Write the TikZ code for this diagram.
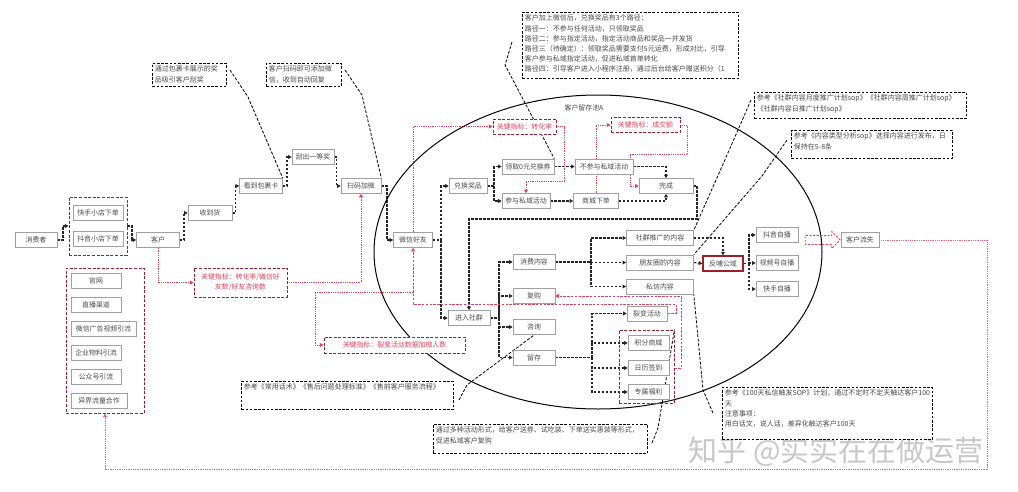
\documentclass[tikz,border=0pt]{standalone}
\usepackage{fontspec}
\newfontfamily\cjk{Noto Sans CJK SC}
\usetikzlibrary{arrows.meta,shapes.geometric,shapes.arrows}
\definecolor{boxgray}{HTML}{A0A0A0}
\definecolor{txtgray}{HTML}{4A4A4A}
\definecolor{redc}{HTML}{E0405A}
\definecolor{dred}{HTML}{A01E2C}
\definecolor{wmgray}{HTML}{C8C8C8}
\pgfdeclarelayer{paper}
\pgfdeclarelayer{bg}
\pgfsetlayers{paper,bg,main}
\tikzset{
  bx/.style={draw=boxgray, line width=0.6pt, fill=white, text=txtgray, font=\cjk\fontsize{6.9}{8}\selectfont, inner sep=0pt, minimum height=15pt},
  grp/.style={draw=dred, line width=0.9pt, dash pattern=on 3pt off 1.6pt, inner sep=0pt},
  rlab/.style={draw=dred, line width=0.9pt, dash pattern=on 3pt off 1.6pt, fill=white, text=redc, font=\cjk\fontsize{6.9}{10}\selectfont, inner sep=0pt, align=center},
  note/.style={draw=black, line width=0.9pt, dash pattern=on 2.6pt off 1.6pt, fill=white, text=txtgray, font=\cjk\fontsize{7}{10.2}\selectfont, inner sep=2.5pt, anchor=north west},
  lbl/.style={text=txtgray, font=\cjk\fontsize{6.9}{8}\selectfont, inner sep=0pt},
  dar/.style={draw=black!85, line width=1.1pt, dash pattern=on 2.6pt off 1.4pt, -{Triangle[length=3.6pt,width=3.8pt]}},
  rdot/.style={draw=redc, line width=0.8pt, dash pattern=on 0.9pt off 0.9pt, -{Triangle[length=3.6pt,width=3.8pt]}},
  rdash/.style={draw=redc, line width=0.9pt, dash pattern=on 2.4pt off 1.4pt, -{Triangle[length=3.6pt,width=3.8pt]}},
  nline/.style={draw=black, line width=0.8pt, dash pattern=on 3pt off 1.6pt},
}
\begin{document}
\begin{tikzpicture}[x=1pt,y=-1pt]
\begin{pgfonlayer}{paper}
\fill[white] (0,0) rectangle (1018,491);
\end{pgfonlayer}
\useasboundingbox (0,0) rectangle (1018,491);

% watermark
\node[text=wmgray, font=\cjk\fontsize{29}{30}\selectfont, inner sep=0pt] (wm) at (836,452) {知乎 @实实在在做运营};

% pool
\node[draw=black, line width=1pt, ellipse, minimum width=448pt, minimum height=314pt, inner sep=0pt] (pool) at (598,252) {};
\node[lbl] (pooltitle) at (584,108) {客户留存池A};

% groups
\node[grp, minimum width=58pt, minimum height=58pt] (g1) at (98,226) {};
\node[grp, minimum width=78pt, minimum height=145pt] (g3) at (105,340.5) {};
\node[grp, minimum width=55pt, minimum height=73pt] (g2) at (646.5,366.5) {};

% left chain
\node[bx, minimum width=42pt] (xfz) at (36,240) {消费者};
\node[bx, minimum width=50pt] (ks) at (98,212.5) {快手小店下单};
\node[bx, minimum width=50pt] (dy) at (98,239) {抖音小店下单};
\node[bx, minimum width=43pt] (kh) at (158,240) {客户};
\node[bx, minimum width=44pt] (sdh) at (210,213) {收到货};
\node[bx, minimum width=43pt] (kbgk) at (261,186) {看到包裹卡};
\node[bx, minimum width=42pt] (gcyd) at (313,157) {刮出一等奖};
\node[bx, minimum width=40pt] (smjw) at (361,186) {扫码加微};

% channels
\node[bx, minimum width=50pt] (gw) at (96,281) {官网};
\node[bx, minimum width=50pt] (zbqd) at (96,305) {直播渠道};
\node[bx, minimum width=65pt] (wxgg) at (103.5,329) {微信广告视频引流};
\node[bx, minimum width=50pt] (qywl) at (96,353) {企业物料引流};
\node[bx, minimum width=50pt] (gzh) at (96,376.5) {公众号引流};
\node[bx, minimum width=56pt] (yjll) at (99,400.5) {异界流量合作};

% inside pool
\node[bx, minimum width=39pt] (wxhy) at (413,240) {微信好友};
\node[bx, minimum width=38pt] (dhjp) at (468,186) {兑换奖品};
\node[bx, minimum width=52pt] (lq0) at (528,166.5) {领取0元兑换券};
\node[bx, minimum width=48pt] (cysy) at (526,201) {参与私域活动};
\node[bx, minimum width=58pt] (bcy) at (604,166.5) {不参与私域活动};
\node[bx, minimum width=45pt] (scxd) at (596,201) {商城下单};
\node[bx, minimum width=54pt] (wc) at (666,186) {完成};
\node[bx, minimum width=42pt] (jrsq) at (469,318) {进入社群};
\node[bx, minimum width=42pt] (xfnr) at (534,262) {消费内容};
\node[bx, minimum width=42pt] (fg) at (534,296) {复购};
\node[bx, minimum width=42pt] (zx) at (534,327) {咨询};
\node[bx, minimum width=42pt] (lc) at (534,357.5) {留存};
\node[bx, minimum width=67pt] (sqtg) at (660,238) {社群推广的内容};
\node[bx, minimum width=67pt] (pyq) at (660,262.5) {朋友圈的内容};
\node[bx, minimum width=67pt] (sxnr) at (660,286.5) {私信内容};
\node[bx, minimum width=40pt] (lbhd) at (647,313.5) {裂变活动};
\node[bx, minimum width=41pt] (jfsc) at (648.5,343) {积分商城};
\node[bx, minimum width=41pt] (rlqd) at (648.5,368) {日历签到};
\node[bx, minimum width=41pt] (zsfl) at (648.5,392) {专属福利};
\node[bx, draw=dred, line width=1.2pt, minimum width=40pt] (fbgy) at (723,263.5) {反哺公域};
\node[bx, minimum width=42pt] (dyzb) at (777,235) {抖音自播};
\node[bx, minimum width=42pt] (sphzb) at (777,263) {视频号自播};
\node[bx, minimum width=42pt] (kszb) at (777,289) {快手自播};
\node[bx, minimum width=38pt] (khls) at (860,240) {客户流失};
\node[single arrow, draw=redc, line width=0.9pt, dash pattern=on 2.2pt off 1.4pt, minimum height=35pt, inner sep=4pt, single arrow head extend=4pt, single arrow head indent=0pt] (loss) at (820.5,240) {};

% red labels
\node[rlab, minimum width=93pt, minimum height=29pt] (rl1) at (240.5,282.5) {关键指标：转化率/微信好\\友数/好友咨询数};
\node[rlab, minimum width=63pt, minimum height=15pt] (rl2) at (524.5,126.5) {关键指标：转化率};
\node[rlab, minimum width=69pt, minimum height=15pt] (rl3) at (645.5,125) {关键指标：成交额};
\node[rlab, minimum width=141pt, minimum height=16pt] (rl4) at (394.5,345) {关键指标：裂变活动数据加微人数};

% notes
\node[note] (n1) at (152,63) {\parbox[t][18pt][t]{69pt}{通过包裹卡展示的奖\\品吸引客户刮奖}};
\node[note] (n2) at (266,63) {\parbox[t][18pt][t]{70pt}{客户扫码即可添加微\\信，收到自动回复}};
\node[note] (n3) at (522,12) {\parbox[t][61pt][t]{211pt}{客户加上微信后，兑换奖品有3个路径：\\路径一：不参与任何活动，只领取奖品\\路径二：参与指定活动，指定活动商品和奖品一并发货\\路径三（待确定）：领取奖品需要支付5元运费，形成对比，引导\\客户参与私域指定活动，促进私域首单转化\\路径四：引导客户进入小程序注册，通过后台给客户赠送积分（1}};
\node[note] (n4) at (754,92) {\parbox[t][21pt][t]{207pt}{参考《社群内容月度推广计划sop》《社群内容周推广计划sop》\\《社群内容日推广计划sop》}};
\node[note] (n5) at (791,130) {\parbox[t][23pt][t]{156pt}{参考《内容类型分析sop》选择内容进行发布，日\\保持在5-8条}};
\node[note] (n6) at (241,381) {\parbox[t][23pt][t]{207pt}{参考《常用话术》《售后问题处理标准》《售前客户服务流程》}};
\node[note] (n7) at (433,424) {\parbox[t][24pt][t]{209pt}{通过多种活动形式，给客户送券、试吃装、下单送实惠装等形式，\\促进私域客户复购}};
\node[note] (n8) at (722,387) {\parbox[t][47pt][t]{205pt}{参考《100天私信触发SOP》计划，通过不定时不定天触达客户100\\天\\注意事项：\\用白话文，说人话，差异化触达客户100天}};

% free ends of note leaders
\coordinate (p1) at (230,70);
\coordinate (p2) at (345,70);
\coordinate (p3) at (512,42);
\coordinate (p4) at (751,100);
\coordinate (p5) at (787,140);
\coordinate (p6) at (459,400);
\coordinate (p7) at (652,443);
\coordinate (p8) at (713,413);

\begin{pgfonlayer}{bg}
% black flow
\draw[dar] (xfz.east) -- (63,240) |- (g1.west);
\draw[dar] (g1.east) -- (132,226) |- (kh.west);
\draw[dar] (kh.east) -- (184,240) |- (sdh.west);
\draw[dar] (sdh.east) -- (235.5,213) |- (kbgk.west);
\draw[dar] (kbgk.east) -- (287,186) |- (gcyd.west);
\draw[dar] (gcyd.east) -- (336.5,157) |- (smjw.west);
\draw[dar] (smjw.east) -- (387,186) |- (wxhy.west);
\draw[dar] (wxhy.east) -- (441,240) |- (dhjp.west);
\draw[dar] (441,240) |- (jrsq.west);
\draw[dar] (dhjp.east) -- (494,186) |- (lq0.west);
\draw[dar] (494,186) |- (cysy.west);
\draw[dar] (lq0.east) -- (bcy.west);
\draw[dar] (cysy.east) -- (scxd.west);
\draw[dar] (bcy.east) -| (wc.north);
\draw[dar] (scxd.east) -| (wc.south);
\draw[dar] (wc.east) -- (697,186) -- (697,219) -| (jrsq.north);
\draw[dar] (jrsq.east) -- (499,318) |- (xfnr.west);
\draw[dar] (499,318) |- (fg.west);
\draw[dar] (499,318) |- (zx.west);
\draw[dar] (499,318) |- (lc.west);
\draw[dar] (xfnr.east) -- (591,262) |- (sqtg.west);
\draw[dar] (591,262) |- (pyq.west);
\draw[dar] (591,262) |- (sxnr.west);
\draw[dar] (lc.east) -- (592,357.5) |- (lbhd.west);
\draw[dar] (592,357.5) |- (jfsc.west);
\draw[dar] (592,357.5) |- (rlqd.west);
\draw[dar] (592,357.5) |- (zsfl.west);
\draw[dar] (pyq.east) -- (fbgy.west);
\draw[dar] (sqtg.east) -| (fbgy.north);
\draw[dar] (fbgy.east) -- (749,263.5) |- (dyzb.west);
\draw[dar] (749,263.5) |- (sphzb.west);
\draw[dar] (749,263.5) |- (kszb.west);

% red flow
\draw[rdot] (kh.south) |- (rl1.west);
\draw[rdot] (rl1.east) -| (smjw.south);
\draw[rdot] (wxhy.north) |- (rl2.west);
\draw[rdot] (rl2.east) -- (564,126.5) -- (564,181) -| (cysy.north);
\draw[rdot] (scxd.north) |- (rl3.west);
\draw[rdot] (rl3.east) -- (687,125) -- (687,154) -- (630,154) |- (wc.west);
\draw[rdash] (lbhd.east) -- (676,313.5) -- (676,304) -| (wxhy.south);
\draw[rdot] (413,292) -- (315,292) |- (rl4.west);
\draw[rdash] (g2.east |- rlqd) -- (681,368) |- (fg.east);
\draw[rdot, draw=redc!80] (khls.east) -- (987,240) -- (987,469) -| (g3.south);

% note leaders
\draw[nline] (p1) -- (248,97) -- (kbgk.north east);
\draw[nline] (p2) -- (362,95) -- (smjw.north east);
\draw[nline] (p3) -- (505,65) -- (lq0.north east);
\draw[nline] (p4) -- (731,146) -- (sqtg.north east);
\draw[nline] (p5) -- (762,176) -- (pyq.north east);
\draw[nline] (p6) -- (467,385) -- (zx.north east);
\draw[nline] (p7) -- (658,428) -- (g2.north east);
\draw[nline] (p8) -- (703,390) -- (sxnr.south east);
\end{pgfonlayer}
\end{tikzpicture}
\end{document}
